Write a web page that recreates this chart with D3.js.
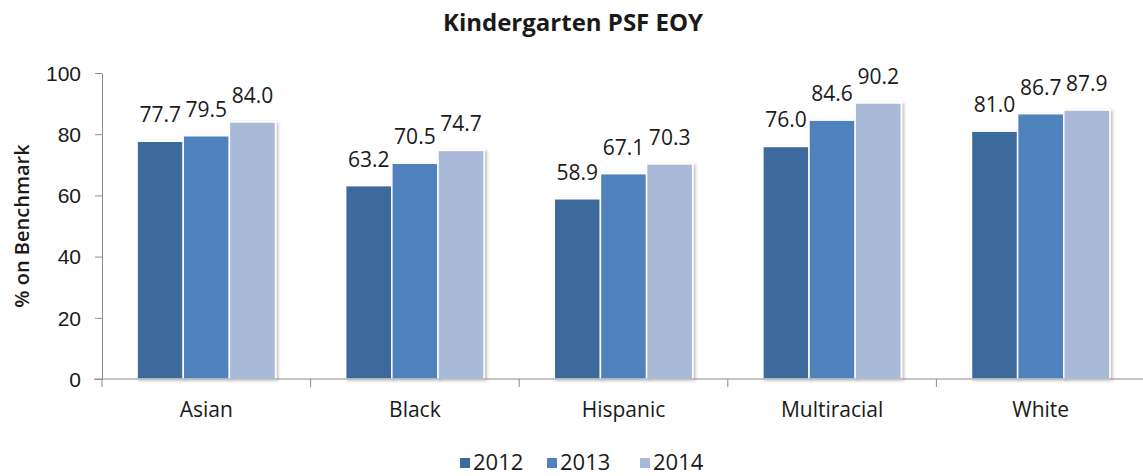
<!DOCTYPE html>
<html lang="en">

<head>
  <meta charset="UTF-8" />
  <title>Kindergarten PSF EOY</title>
  <style>
    html, body {
      margin: 0;
      background: #ffffff;
      font-family: "Open Sans", sans-serif;
    }

    svg {
      display: block;
    }

    .axis path,
    .axis line {
      stroke: #8c8c8c;
    }

    .axis text {
      fill: #1a1a1a;
      font-size: 21px;
    }

    .bar {
      stroke: #ffffff;
      stroke-width: 1.5;
    }

    .value-label {
      font-size: 21px;
      fill: #1a1a1a;
      text-anchor: middle;
    }
  </style>
  <script src="https://d3js.org/d3.v7.min.js"></script>
</head>

<body>
  <svg id="chart" width="1143" height="476"></svg>
  <script>
    // data
    const categories = ["Asian", "Black", "Hispanic", "Multiracial", "White"];
    const years = ["2012", "2013", "2014"];
    const values2012 = [77.7, 63.2, 58.9, 76.0, 81.0];
    const values2013 = [79.5, 70.5, 67.1, 84.6, 86.7];
    const values2014 = [84.0, 74.7, 70.3, 90.2, 87.9];
    const yTicks = [0, 20, 40, 60, 80, 100];
    const colors = ["#3e6a9c", "#4f81bd", "#a9bad9"];

    const series = [values2012, values2013, values2014];

    const width = 1143;
    const height = 476;
    const margin = { top: 73, right: -2, bottom: 97, left: 102 };

    const svg = d3.select("#chart");

    // soft shadow like the excel bars
    const defs = svg.append("defs");
    defs.append("filter")
      .attr("id", "shadow")
      .attr("x", "-20%").attr("y", "-5%")
      .attr("width", "150%").attr("height", "110%")
      .append("feDropShadow")
      .attr("dx", 2).attr("dy", 1)
      .attr("stdDeviation", 1.5)
      .attr("flood-color", "#000")
      .attr("flood-opacity", 0.25);

    const x = d3.scaleBand()
      .domain(categories)
      .range([margin.left, width - margin.right]);

    const xInner = d3.scaleBand()
      .domain(years)
      .range([0, x.bandwidth()])
      .paddingOuter(0.76)
      .paddingInner(0);

    const y = d3.scaleLinear()
      .domain([0, 100])
      .range([height - margin.bottom, margin.top]);

    // title
    svg.append("text")
      .attr("x", 573)
      .attr("y", 31)
      .attr("text-anchor", "middle")
      .attr("font-size", 24)
      .attr("font-weight", "bold")
      .attr("fill", "#1a1a1a")
      .text("Kindergarten PSF EOY");

    // y axis
    svg.append("g")
      .attr("class", "axis")
      .attr("transform", `translate(${margin.left},0)`)
      .call(d3.axisLeft(y).tickValues(yTicks).tickSize(7).tickPadding(14).tickSizeOuter(0))
      .call(g => g.selectAll("text").attr("dy", "0.35em"));

    // y title
    svg.append("text")
      .attr("transform", `translate(29, ${y(50)}) rotate(-90)`)
      .attr("text-anchor", "middle")
      .attr("font-size", 20)
      .attr("font-weight", 600)
      .attr("fill", "#1a1a1a")
      .text("% on Benchmark");

    // groups of bars
    const groups = svg.append("g")
      .selectAll("g")
      .data(categories)
      .join("g")
      .attr("transform", d => `translate(${x(d)},0)`);

    groups.selectAll("rect")
      .data((d, i) => years.map((yr, j) => ({ year: yr, value: series[j][i], idx: j })))
      .join("rect")
      .attr("class", "bar")
      .attr("filter", "url(#shadow)")
      .attr("x", d => xInner(d.year))
      .attr("y", d => y(d.value))
      .attr("width", xInner.bandwidth())
      .attr("height", d => y(0) - y(d.value))
      .attr("fill", d => colors[d.idx]);

    groups.selectAll("text")
      .data((d, i) => years.map((yr, j) => ({ year: yr, value: series[j][i] })))
      .join("text")
      .attr("class", "value-label")
      .attr("x", d => xInner(d.year) + xInner.bandwidth() / 2)
      .attr("y", d => y(d.value) - 19)
      .text(d => d.value.toFixed(1));

    // x axis, ticks between categories
    const xAxisG = svg.append("g")
      .attr("class", "axis")
      .attr("transform", `translate(0,${y(0)})`);

    xAxisG.append("line")
      .attr("x1", margin.left - 8)
      .attr("x2", width)
      .attr("y1", 0).attr("y2", 0);

    xAxisG.selectAll(".sep")
      .data(categories)
      .join("line")
      .attr("class", "sep")
      .attr("x1", d => x(d)).attr("x2", d => x(d))
      .attr("y1", 0).attr("y2", 8);

    xAxisG.selectAll(".cat")
      .data(categories)
      .join("text")
      .attr("class", "cat")
      .attr("x", d => x(d) + x.bandwidth() / 2)
      .attr("y", 38)
      .attr("text-anchor", "middle")
      .attr("font-size", 20)
      .text(d => d);

    // legend
    const legendX = [460, 547, 640];
    const legend = svg.append("g")
      .selectAll("g")
      .data(years)
      .join("g")
      .attr("transform", (d, i) => `translate(${legendX[i]}, 456)`);

    legend.append("rect")
      .attr("width", 10)
      .attr("height", 10)
      .attr("y", 2)
      .attr("fill", (d, i) => colors[i]);

    legend.append("text")
      .attr("x", 13)
      .attr("y", 14)
      .attr("font-size", 22)
      .attr("fill", "#1a1a1a")
      .text(d => d);
  </script>
</body>

</html>
